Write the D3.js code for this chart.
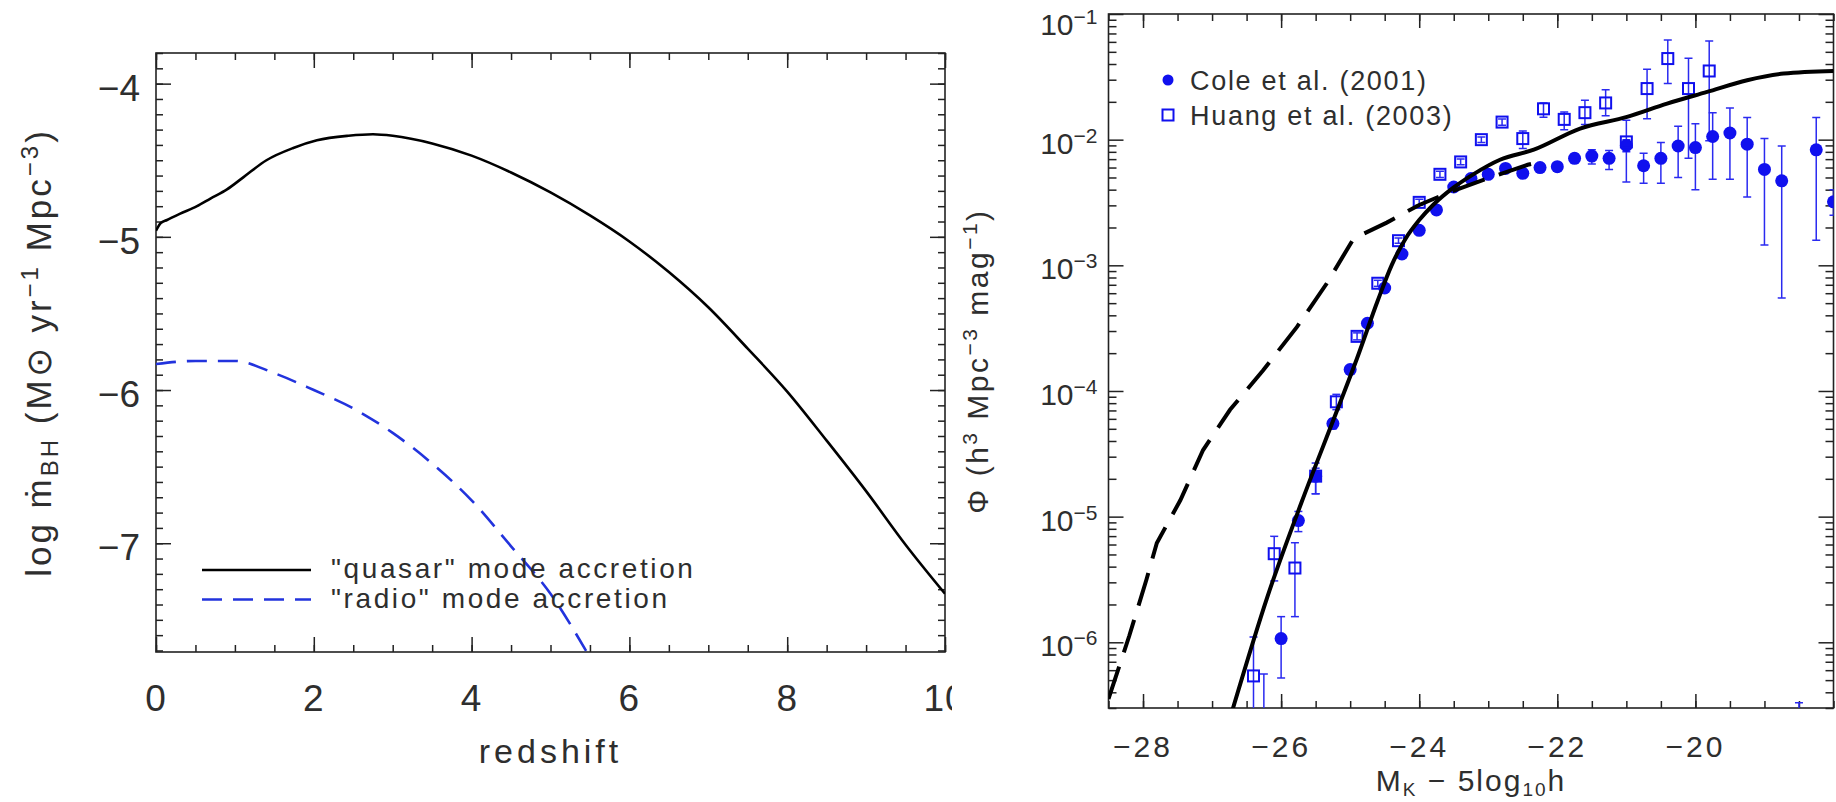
<!DOCTYPE html>
<html>
<head>
<meta charset="utf-8">
<script src="https://cdn.jsdelivr.net/npm/d3@7"></script>
<style>
  body { margin: 0; background: #fff; }
  svg text { font-family: 'Liberation Sans', Arial, Helvetica, sans-serif; fill: #2e2e2e; }
</style>
</head>
<body>
<script>
// #Left panel: accretion rate density vs redshift
const zQuasar   = [0, 0.06, 0.14, 0.3, 0.52, 0.69, 0.9, 1.11, 1.4, 1.74, 2.04, 2.44, 2.75, 3.0, 3.5, 4.0, 4.5, 5.0, 5.5, 6.0, 6.5, 7.0, 7.5, 8.0, 8.5, 9.0, 9.5, 10.0];
const logQuasar = [-4.96, -4.91, -4.89, -4.85, -4.80, -4.75, -4.69, -4.61, -4.50, -4.42, -4.37, -4.34, -4.33, -4.34, -4.39, -4.47, -4.58, -4.71, -4.86, -5.03, -5.23, -5.46, -5.73, -6.01, -6.33, -6.66, -7.01, -7.33];
const zRadio    = [0, 0.5, 1.0, 1.5, 2.0, 2.5, 3.0, 3.5, 4.0, 4.5, 5.0, 5.46];
const logRadio  = [-5.83, -5.81, -5.81, -5.89, -6.0, -6.12, -6.28, -6.48, -6.72, -7.02, -7.33, -7.71];
const leftXTicks = [0, 2, 4, 6, 8, 10];
const leftYTicks = [-7, -6, -5, -4];
const leftLegend = ['"quasar" mode accretion', '"radio" mode accretion'];

// #Right panel: K-band luminosity function
const magCole = [-26.25, -26.0, -25.75, -25.5, -25.25, -25.0, -24.75, -24.5, -24.25, -24.0, -23.75, -23.5, -23.25, -23.0, -22.75, -22.5, -22.25, -22.0, -21.75, -21.5, -21.25, -21.0, -20.75, -20.5, -20.25, -20.0, -19.75, -19.5, -19.25, -19.0, -18.75, -18.5, -18.25, -18.0];
const phiCole   = [2.0e-7, 1.07e-6, 9.3e-6, 2.1e-5, 5.5e-5, 1.48e-4, 3.46e-4, 6.6e-4, 1.23e-3, 1.9e-3, 2.76e-3, 4.2e-3, 4.9e-3, 5.3e-3, 5.9e-3, 5.4e-3, 6.0e-3, 6.1e-3, 7.1e-3, 7.4e-3, 7.1e-3, 9.0e-3, 6.2e-3, 7.1e-3, 8.9e-3, 8.65e-3, 1.06e-2, 1.13e-2, 9.2e-3, 5.8e-3, 4.7e-3, 1.0e-7, 8.3e-3, 3.2e-3];
const phiColeLo = [1.0e-7, 5.2e-7, 7.6e-6, 1.52e-5, 5.0e-5, 1.40e-4, 3.3e-4, 6.3e-4, 1.17e-3, 1.82e-3, 2.65e-3, 4.0e-3, 4.7e-3, 5.1e-3, 5.6e-3, 5.2e-3, 5.7e-3, 5.8e-3, 6.5e-3, 6.4e-3, 5.8e-3, 8.0e-3, 4.5e-3, 4.5e-3, 5.0e-3, 4.0e-3, 4.84e-3, 4.84e-3, 3.5e-3, 1.45e-3, 5.5e-4, 5.0e-8, 1.58e-3, 2.5e-3];
const phiColeHi = [5.6e-7, 1.6e-6, 1.1e-5, 2.43e-5, 6.0e-5, 1.56e-4, 3.6e-4, 6.9e-4, 1.29e-3, 1.98e-3, 2.87e-3, 4.4e-3, 5.1e-3, 5.5e-3, 6.2e-3, 5.6e-3, 6.3e-3, 6.4e-3, 7.7e-3, 8.3e-3, 8.2e-3, 1.0e-2, 7.8e-3, 9.5e-3, 1.28e-2, 1.34e-2, 1.64e-2, 1.79e-2, 1.5e-2, 1.02e-2, 8.9e-3, 3.3e-7, 1.5e-2, 4.0e-3];

const magHuang = [-26.4, -26.1, -25.8, -25.5, -25.2, -24.9, -24.6, -24.3, -24.0, -23.7, -23.4, -23.1, -22.8, -22.5, -22.2, -21.9, -21.6, -21.3, -21.0, -20.7, -20.4, -20.1, -19.8];
const phiHuang   = [5.4e-7, 5.07e-6, 3.9e-6, 2.1e-5, 8.2e-5, 2.72e-4, 7.2e-4, 1.57e-3, 3.17e-3, 5.3e-3, 6.65e-3, 1.0e-2, 1.38e-2, 1.02e-2, 1.76e-2, 1.45e-2, 1.64e-2, 1.96e-2, 9.6e-3, 2.55e-2, 4.42e-2, 2.55e-2, 3.52e-2];
const phiHuangLo = [1.0e-7, 3.08e-6, 1.6e-6, 1.52e-5, 7.1e-5, 2.55e-4, 6.8e-4, 1.5e-3, 3.0e-3, 5.0e-3, 6.3e-3, 9.5e-3, 1.3e-2, 8.5e-3, 1.51e-2, 1.2e-2, 1.32e-2, 1.55e-2, 4.6e-3, 1.47e-2, 2.8e-2, 7.1e-3, 9.8e-3];
const phiHuangHi = [1.1e-6, 6.97e-6, 6.2e-6, 2.67e-5, 9.4e-5, 2.9e-4, 7.6e-4, 1.65e-3, 3.35e-3, 5.6e-3, 7.0e-3, 1.05e-2, 1.46e-2, 1.17e-2, 1.96e-2, 1.66e-2, 2.06e-2, 2.5e-2, 1.43e-2, 3.63e-2, 6.2e-2, 4.44e-2, 6.1e-2];

const magModel = [-26.7, -26.2, -25.7, -25.2, -24.9, -24.6, -24.4, -24.2, -24.0, -23.8, -23.5, -23.2, -22.83, -22.34, -21.67, -20.99, -20.41, -19.83, -19.25, -18.72, -18.0];
const logModel = [-6.53, -5.64, -4.88, -4.17, -3.74, -3.28, -3.0, -2.79, -2.64, -2.52, -2.38, -2.27, -2.16, -2.08, -1.912, -1.819, -1.713, -1.62, -1.527, -1.474, -1.453];
const magNoFeedback = [-28.5, -28.2, -27.95, -27.8, -27.46, -27.13, -26.74, -26.26, -25.77, -25.34, -24.95, -24.47, -24.0, -23.55, -23.07, -22.43, -22.2];
const logNoFeedback = [-6.45, -5.95, -5.5, -5.21, -4.87, -4.47, -4.15, -3.835, -3.49, -3.145, -2.787, -2.66, -2.52, -2.416, -2.32, -2.20, -2.17];

const rightXTicks = [-28, -26, -24, -22, -20];
const rightYExp = [-6, -5, -4, -3, -2, -1];
const rightLegend = ['Cole et al. (2001)', 'Huang et al. (2003)'];

// #Define SVG
const width = 1836, height = 802;
const svg = d3.select('body').append('svg')
              .attr('width', width)
              .attr('height', height);

const blue = '#1010ee';

// #Ticks on one side of a frame, pointing inward
const drawTicks = (g, axisFn, scale, tf, major, minor, majorLen, minorLen) => {
    g.append('g').attr('transform', tf).attr('color', '#222')
     .call(axisFn(scale).tickValues(minor).tickSize(-minorLen).tickFormat(''))
     .call(a => a.select('.domain').remove());
    g.append('g').attr('transform', tf).attr('color', '#222')
     .call(axisFn(scale).tickValues(major).tickSize(-majorLen).tickFormat(''))
     .call(a => a.select('.domain').remove());
    g.selectAll('.tick line').attr('stroke-width', 1.5);
};

// ================= LEFT PANEL =================
const xL = d3.scaleLinear().domain([0, 10]).range([156, 945]);
const yL = d3.scaleLinear().domain([-7.71, -3.8]).range([652, 53]);
const [lx0, lx1] = xL.range(), [ly0, ly1] = yL.range();

const left = svg.append('g');
left.append('clipPath').attr('id', 'clipL').append('rect')
    .attr('x', lx0).attr('y', ly1).attr('width', lx1 - lx0).attr('height', ly0 - ly1);

const lxMinor = d3.range(0, 10.01, 0.5);
const lyMinor = d3.range(-77, -37).map(v => v / 10);
drawTicks(left, d3.axisBottom, xL, `translate(0,${ly0})`, leftXTicks, lxMinor, 15, 7);
drawTicks(left, d3.axisTop, xL, `translate(0,${ly1})`, leftXTicks, lxMinor, 15, 7);
drawTicks(left, d3.axisLeft, yL, `translate(${lx0},0)`, leftYTicks, lyMinor, 15, 7);
drawTicks(left, d3.axisRight, yL, `translate(${lx1},0)`, leftYTicks, lyMinor, 15, 7);

left.append('rect')
    .attr('x', lx0).attr('y', ly1).attr('width', lx1 - lx0).attr('height', ly0 - ly1)
    .attr('fill', 'none').attr('stroke', '#222').attr('stroke-width', 1.6);

const lineL = d3.line().x(d => xL(d[0])).y(d => yL(d[1])).curve(d3.curveMonotoneX);

left.append('path')
    .datum(d3.zip(zQuasar, logQuasar))
    .attr('clip-path', 'url(#clipL)')
    .attr('d', lineL)
    .attr('fill', 'none').attr('stroke', '#000').attr('stroke-width', 2.6);

left.append('path')
    .datum(d3.zip(zRadio, logRadio))
    .attr('clip-path', 'url(#clipL)')
    .attr('d', lineL)
    .attr('fill', 'none').attr('stroke', '#2233dd').attr('stroke-width', 2.6)
    .attr('stroke-dasharray', '20,11');

left.selectAll('text.xt').data(leftXTicks).join('text')
    .attr('class', 'xt')
    .attr('x', d => xL(d)).attr('y', ly0 + 59)
    .attr('text-anchor', 'middle')
    .attr('font-size', 37).attr('letter-spacing', 1)
    .text(d => d);

left.selectAll('text.yt').data(leftYTicks).join('text')
    .attr('class', 'yt')
    .attr('x', lx0 - 16).attr('y', d => yL(d) + 17)
    .attr('text-anchor', 'end')
    .attr('font-size', 37)
    .text(d3.format('d'));

left.append('text')
    .attr('x', (lx0 + lx1) / 2).attr('y', 763)
    .attr('text-anchor', 'middle')
    .attr('font-size', 34).attr('letter-spacing', 4)
    .text('redshift');

const ltitle = left.append('text')
    .attr('transform', `translate(51,${(ly0 + ly1) / 2}) rotate(-90)`)
    .attr('text-anchor', 'middle')
    .attr('font-size', 35).attr('letter-spacing', 3);
ltitle.append('tspan').text('log \u1E41');
ltitle.append('tspan').attr('font-size', 24).attr('dy', 7).text('BH');
ltitle.append('tspan').attr('dy', -7).text(' (M\u2299 yr');
ltitle.append('tspan').attr('font-size', 24).attr('dy', -13).text('\u22121');
ltitle.append('tspan').attr('dy', 13).text(' Mpc');
ltitle.append('tspan').attr('font-size', 24).attr('dy', -13).text('\u22123');
ltitle.append('tspan').attr('dy', 13).text(')');

// #Left legend
const legL = left.append('g').attr('transform', `translate(${lx0 + 46},${ly1 + 517})`);
legL.selectAll('line').data(leftLegend).join('line')
    .attr('x1', 0).attr('x2', 109)
    .attr('y1', (d, i) => i * 29.5).attr('y2', (d, i) => i * 29.5)
    .attr('stroke', (d, i) => i ? '#2233dd' : '#000')
    .attr('stroke-width', 2.6)
    .attr('stroke-dasharray', (d, i) => i ? '20,11' : null);
legL.selectAll('text').data(leftLegend).join('text')
    .attr('x', 129).attr('y', (d, i) => i * 29.5 + 8)
    .attr('font-size', 28).attr('letter-spacing', 2.6)
    .text(d => d);

// #Right figure sits on top of the left one
svg.append('rect').attr('x', 952).attr('y', 0).attr('width', width - 952).attr('height', height).attr('fill', '#fff');

// ================= RIGHT PANEL =================
const xR = d3.scaleLinear().domain([-28.5, -18]).range([1108.5, 1833.5]);
const yR = d3.scaleLog().domain([3e-7, 0.1]).range([708, 14]);
const [rx0, rx1] = xR.range(), [ry0, ry1] = yR.range();

const right = svg.append('g');
right.append('clipPath').attr('id', 'clipR').append('rect')
     .attr('x', rx0).attr('y', ry1).attr('width', rx1 - rx0).attr('height', ry0 - ry1);

const rxMinor = d3.range(-28.5, -17.9, 0.5);
const ryMajor = rightYExp.map(e => Math.pow(10, e));
const ryMinor = d3.range(-7, -1).flatMap(e => d3.range(2, 10).map(k => k * Math.pow(10, e)))
                  .filter(v => v >= yR.domain()[0] && v <= yR.domain()[1]);
drawTicks(right, d3.axisBottom, xR, `translate(0,${ry0})`, rightXTicks, rxMinor, 14, 7);
drawTicks(right, d3.axisTop, xR, `translate(0,${ry1})`, rightXTicks, rxMinor, 14, 7);
drawTicks(right, d3.axisLeft, yR, `translate(${rx0},0)`, ryMajor, ryMinor, 15, 8);
drawTicks(right, d3.axisRight, yR, `translate(${rx1},0)`, ryMajor, ryMinor, 15, 8);

right.append('rect')
     .attr('x', rx0).attr('y', ry1).attr('width', rx1 - rx0).attr('height', ry0 - ry1)
     .attr('fill', 'none').attr('stroke', '#222').attr('stroke-width', 1.6);

const data = (mags, vals, lo, hi) => mags.map((m, i) => ({ m, v: vals[i], lo: lo[i], hi: hi[i] }));
const cole = data(magCole, phiCole, phiColeLo, phiColeHi);
const huang = data(magHuang, phiHuang, phiHuangLo, phiHuangHi);

const plotR = right.append('g').attr('clip-path', 'url(#clipR)');

// #Error bars
const drawErr = (rows, cls) => {
    const g = plotR.append('g').attr('class', cls)
                   .attr('stroke', '#2a2af0').attr('stroke-width', 1.5);
    g.selectAll('line.v').data(rows).join('line').attr('class', 'v')
     .attr('x1', d => xR(d.m)).attr('x2', d => xR(d.m))
     .attr('y1', d => yR(d.lo)).attr('y2', d => yR(d.hi));
    g.selectAll('line.lo').data(rows).join('line').attr('class', 'lo')
     .attr('x1', d => xR(d.m) - 4).attr('x2', d => xR(d.m) + 4)
     .attr('y1', d => yR(d.lo)).attr('y2', d => yR(d.lo));
    g.selectAll('line.hi').data(rows).join('line').attr('class', 'hi')
     .attr('x1', d => xR(d.m) - 4).attr('x2', d => xR(d.m) + 4)
     .attr('y1', d => yR(d.hi)).attr('y2', d => yR(d.hi));
};
drawErr(cole, 'err-cole');
drawErr(huang, 'err-huang');

plotR.selectAll('circle.cole').data(cole).join('circle')
     .attr('class', 'cole')
     .attr('cx', d => xR(d.m)).attr('cy', d => yR(d.v)).attr('r', 6.5)
     .attr('fill', blue);

plotR.selectAll('rect.huang').data(huang).join('rect')
     .attr('class', 'huang')
     .attr('x', d => xR(d.m) - 5.5).attr('y', d => yR(d.v) - 5.5)
     .attr('width', 11).attr('height', 11)
     .attr('fill', 'none').attr('stroke', blue).attr('stroke-width', 2);

const lineR = d3.line().x(d => xR(d[0])).y(d => yR(Math.pow(10, d[1])));

plotR.append('path')
     .datum(d3.zip(magNoFeedback, logNoFeedback))
     .attr('d', lineR)
     .attr('fill', 'none').attr('stroke', '#000').attr('stroke-width', 4)
     .attr('stroke-dasharray', '34,15');

plotR.append('path')
     .datum(d3.zip(magModel, logModel))
     .attr('d', lineR.curve(d3.curveMonotoneX))
     .attr('fill', 'none').attr('stroke', '#000').attr('stroke-width', 4);

// #Right tick labels
right.selectAll('text.xt').data(rightXTicks).join('text')
     .attr('class', 'xt')
     .attr('x', d => xR(d)).attr('y', ry0 + 49)
     .attr('text-anchor', 'middle')
     .attr('font-size', 30).attr('letter-spacing', 3)
     .text(d3.format('d'));

const ylab = right.selectAll('text.yt').data(rightYExp).join('text')
     .attr('class', 'yt')
     .attr('x', rx0 - 11).attr('y', d => Math.max(yR(Math.pow(10, d)) + 14, ry1 + 21))
     .attr('text-anchor', 'end')
     .attr('font-size', 30);
ylab.append('tspan').text('10');
ylab.append('tspan').attr('font-size', 21).attr('dy', -11).text(d => d3.format('d')(d));

right.append('text')
     .attr('x', (rx0 + rx1) / 2).attr('y', 791)
     .attr('text-anchor', 'middle')
     .attr('font-size', 30).attr('letter-spacing', 2)
     .call(t => {
         t.append('tspan').text('M');
         t.append('tspan').attr('font-size', 19).attr('dy', 5).text('K');
         t.append('tspan').attr('dy', -5).text(' \u2212  5log');
         t.append('tspan').attr('font-size', 19).attr('dy', 5).text('10');
         t.append('tspan').attr('dy', -5).text('h');
     });

const rtitle = right.append('text')
     .attr('transform', `translate(988,${(ry0 + ry1) / 2}) rotate(-90)`)
     .attr('text-anchor', 'middle')
     .attr('font-size', 30).attr('letter-spacing', 2.5);
rtitle.append('tspan').text('\u03A6  (h');
rtitle.append('tspan').attr('font-size', 21).attr('dy', -11).text('3');
rtitle.append('tspan').attr('dy', 11).text(' Mpc');
rtitle.append('tspan').attr('font-size', 21).attr('dy', -11).text('\u22123');
rtitle.append('tspan').attr('dy', 11).text(' mag');
rtitle.append('tspan').attr('font-size', 21).attr('dy', -11).text('\u22121');
rtitle.append('tspan').attr('dy', 11).text(')');

// #Right legend
const legR = right.append('g').attr('transform', `translate(${rx0 + 59.5},${ry1 + 66})`);
legR.append('circle').attr('cx', 0).attr('cy', 0).attr('r', 5.5).attr('fill', blue);
legR.append('rect').attr('x', -5.5).attr('y', 29.5).attr('width', 11).attr('height', 11)
    .attr('fill', 'none').attr('stroke', blue).attr('stroke-width', 2);
legR.selectAll('text').data(rightLegend).join('text')
    .attr('x', 22).attr('y', (d, i) => i * 35 + 10)
    .attr('font-size', 27).attr('letter-spacing', 1.7)
    .text(d => d);
</script>
</body>
</html>
